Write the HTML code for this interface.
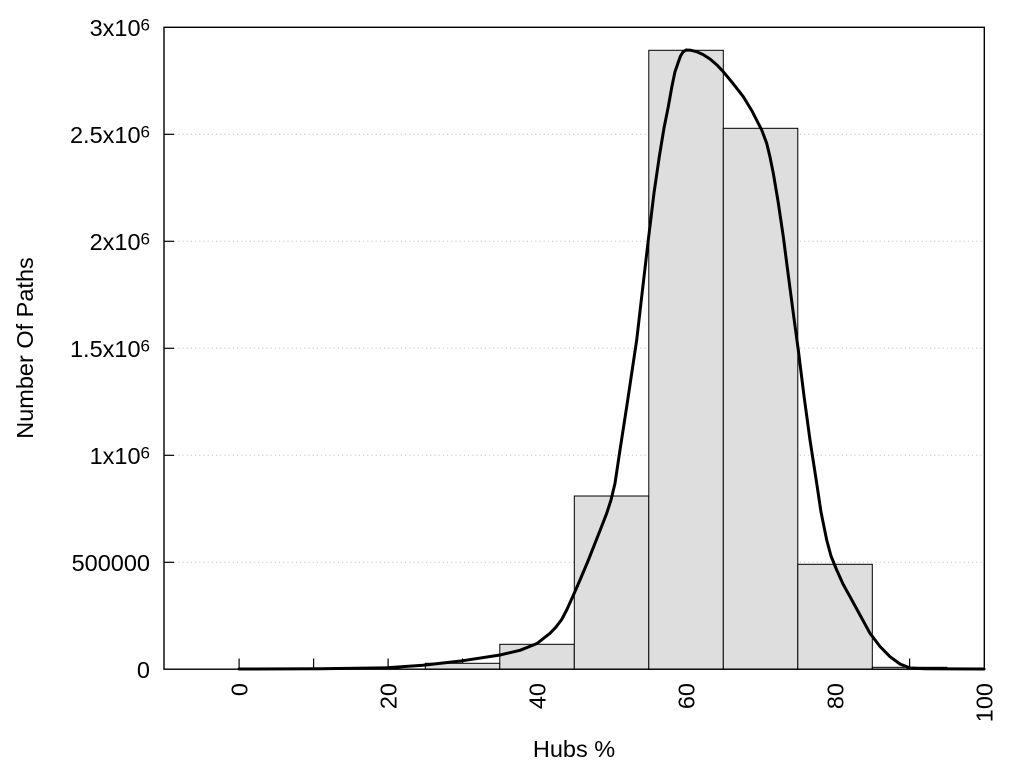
<!DOCTYPE html>
<html>
<head>
<meta charset="utf-8">
<style>
html,body{margin:0;padding:0;background:#fff;}
svg{display:block;}
text{font-family:"Liberation Sans",Arial,sans-serif;fill:#000;}
</style>
</head>
<body>
<svg width="1024" height="768" viewBox="0 0 1024 768" xmlns="http://www.w3.org/2000/svg">
<rect x="0" y="0" width="1024" height="768" fill="#fff"/>
<!-- grid lines -->
<g stroke="#c4c4c4" stroke-width="1" stroke-dasharray="1.2,3">
<line x1="174" y1="134.3" x2="984" y2="134.3"/>
<line x1="174" y1="241.3" x2="984" y2="241.3"/>
<line x1="174" y1="348.3" x2="984" y2="348.3"/>
<line x1="174" y1="455.3" x2="984" y2="455.3"/>
<line x1="174" y1="562.3" x2="984" y2="562.3"/>
</g>
<!-- x ticks -->
<g stroke="#000" stroke-width="1.2">
<line x1="239.1" y1="669" x2="239.1" y2="658.5"/>
<line x1="313.6" y1="669" x2="313.6" y2="658.5"/>
<line x1="388.1" y1="669" x2="388.1" y2="658.5"/>
<line x1="462.6" y1="669" x2="462.6" y2="658.5"/>
<line x1="537.1" y1="669" x2="537.1" y2="658.5"/>
<line x1="611.6" y1="669" x2="611.6" y2="658.5"/>
<line x1="686.1" y1="669" x2="686.1" y2="658.5"/>
<line x1="760.6" y1="669" x2="760.6" y2="658.5"/>
<line x1="835.1" y1="669" x2="835.1" y2="658.5"/>
<line x1="909.6" y1="669" x2="909.6" y2="658.5"/>
</g>
<!-- y ticks -->
<g stroke="#000" stroke-width="1.2">
<line x1="164" y1="134.3" x2="174" y2="134.3"/>
<line x1="164" y1="241.3" x2="174" y2="241.3"/>
<line x1="164" y1="348.3" x2="174" y2="348.3"/>
<line x1="164" y1="455.3" x2="174" y2="455.3"/>
<line x1="164" y1="562.3" x2="174" y2="562.3"/>
</g>
<!-- bars -->
<g fill="#dedede" stroke="#000" stroke-width="1">
<rect x="425.3" y="663.3" width="74.5" height="5.9"/>
<rect x="499.8" y="644.3" width="74.5" height="24.9"/>
<rect x="574.3" y="496" width="74.5" height="173.2"/>
<rect x="648.8" y="50.3" width="74.5" height="618.9"/>
<rect x="723.3" y="128.3" width="74.5" height="540.9"/>
<rect x="797.8" y="564.3" width="74.5" height="104.9"/>
<rect x="872.3" y="667.3" width="74.5" height="1.9"/>
</g>
<!-- frame -->
<rect x="164" y="27.3" width="820.3" height="641.9" fill="none" stroke="#000" stroke-width="1.4"/>
<!-- curve -->
<polyline fill="none" stroke="#000" stroke-width="3" stroke-linejoin="round" stroke-linecap="round"
points="239,669 320,668.7 387,667.8 423,665.3 463,660.7 500,655 520,650.3 537,643.5 550,633.3 556,627 561.7,619.5 566.7,610 573,596 580,580 588,561 595,543.3 601,528 606.7,513.3 611,500 615,483.3 620,450 626.7,406.7 631,378 636.7,340 642,294 648.3,240 654,193 659.3,156.7 664,128 668.3,106.7 672,86 675,71.7 678,63 680.5,56 683,52 686,50 691,50.3 696.7,51.7 703,54.5 710,59 717,65 723.3,71.7 733,83.5 743.3,96.7 752,111 761.7,130 766.7,143.3 770,157 773.3,173.3 778,201 783.3,236.7 788,273 793.3,313.3 798.3,350 804,396 810,440 816.7,483.3 821,512 826.7,540 831,556 836.7,570 843,584 850,596.7 860,615 870,633.3 880,646.5 890,656.7 900,664 910,668 925,668.7 950,668.9 984,669"/>
<!-- y labels -->
<g font-size="23.5" text-anchor="end">
<text x="150" y="36">3x10<tspan font-size="17" dy="-5.5">6</tspan></text>
<text x="150" y="143">2.5x10<tspan font-size="17" dy="-5.5">6</tspan></text>
<text x="150" y="250">2x10<tspan font-size="17" dy="-5.5">6</tspan></text>
<text x="150" y="357">1.5x10<tspan font-size="17" dy="-5.5">6</tspan></text>
<text x="150" y="464">1x10<tspan font-size="17" dy="-5.5">6</tspan></text>
<text x="150" y="571">500000</text>
<text x="150" y="678">0</text>
</g>
<!-- x labels -->
<g font-size="23.5" text-anchor="end">
<text transform="translate(247.5,683) rotate(-90)">0</text>
<text transform="translate(396.5,683) rotate(-90)">20</text>
<text transform="translate(545.5,683) rotate(-90)">40</text>
<text transform="translate(694.5,683) rotate(-90)">60</text>
<text transform="translate(843.5,683) rotate(-90)">80</text>
<text transform="translate(992.5,683) rotate(-90)">100</text>
</g>
<!-- axis titles -->
<text x="574" y="757" font-size="23.5" text-anchor="middle">Hubs %</text>
<text transform="translate(33,348) rotate(-90)" font-size="23.5" text-anchor="middle">Number Of Paths</text>
</svg>
</body>
</html>
